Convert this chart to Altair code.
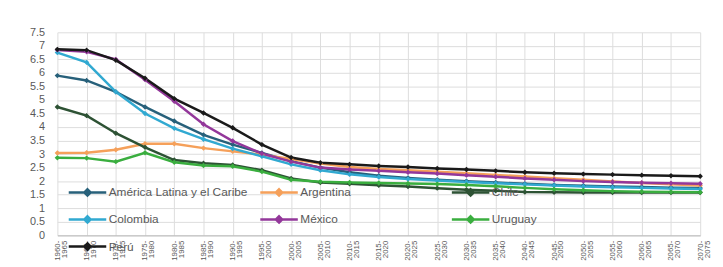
import altair as alt
import pandas as pd

periods = ["1960-1965", "1965-1970", "1970-1975", "1975-1980", "1980-1985", "1985-1990",
           "1990-1995", "1995-2000", "2000-2005", "2005-2010", "2010-2015", "2015-2020",
           "2020-2025", "2025-2030", "2030-2035", "2035-2040", "2040-2045", "2045-2050",
           "2050-2055", "2055-2060", "2060-2065", "2065-2070", "2070-2075"]

alc = [5.90, 5.72, 5.30, 4.74, 4.22, 3.71, 3.35, 3.04, 2.74, 2.50, 2.33, 2.20, 2.12, 2.05,
       2.00, 1.95, 1.90, 1.86, 1.83, 1.80, 1.78, 1.76, 1.75]
argentina = [3.04, 3.05, 3.16, 3.38, 3.38, 3.22, 3.10, 2.98, 2.82, 2.65, 2.52, 2.45, 2.40,
             2.35, 2.29, 2.23, 2.17, 2.11, 2.05, 1.99, 1.93, 1.88, 1.84]
chile = [4.74, 4.42, 3.77, 3.25, 2.78, 2.66, 2.60, 2.40, 2.10, 1.95, 1.90, 1.85, 1.80, 1.74,
         1.68, 1.64, 1.60, 1.59, 1.58, 1.58, 1.58, 1.58, 1.58]
colombia = [6.75, 6.39, 5.30, 4.50, 3.95, 3.55, 3.20, 2.92, 2.62, 2.40, 2.25, 2.15, 2.08,
            2.02, 1.97, 1.92, 1.88, 1.84, 1.80, 1.77, 1.75, 1.73, 1.71]
mexico = [6.85, 6.78, 6.50, 5.75, 4.95, 4.10, 3.48, 3.02, 2.72, 2.50, 2.43, 2.38, 2.33,
          2.28, 2.22, 2.16, 2.10, 2.05, 2.00, 1.97, 1.94, 1.92, 1.90]
uruguay = [2.86, 2.85, 2.72, 3.05, 2.70, 2.58, 2.55, 2.35, 2.05, 1.98, 1.95, 1.93, 1.91,
           1.89, 1.86, 1.81, 1.75, 1.70, 1.66, 1.63, 1.61, 1.60, 1.59]
peru = [6.87, 6.84, 6.47, 5.80, 5.05, 4.52, 3.97, 3.35, 2.87, 2.68, 2.62, 2.56, 2.52, 2.47,
        2.43, 2.38, 2.33, 2.29, 2.26, 2.24, 2.22, 2.20, 2.18]

series_names = ["América Latina y el Caribe", "Argentina", "Chile", "Colombia", "México",
                "Uruguay", "Perú"]
series_values = [alc, argentina, chile, colombia, mexico, uruguay, peru]
series_colors = ["#27607A", "#F5A05A", "#2D5234", "#31A9D1", "#93379A", "#3AAE3F", "#1A1A1A"]

y_ticks = [0, 0.5, 1, 1.5, 2, 2.5, 3, 3.5, 4, 4.5, 5, 5.5, 6, 6.5, 7, 7.5]

rows = []
for name, vals in zip(series_names, series_values):
    for p, v in zip(periods, vals):
        rows.append({"period": p, "series": name, "value": v})
df = pd.DataFrame(rows)

FONT = "Liberation Sans"

base = alt.Chart(df).encode(
    x=alt.X("period:N", sort=periods, scale=alt.Scale(padding=0),
            axis=alt.Axis(title=None, labelAngle=270, labelFontSize=8, labelColor="#595959",
                          labelExpr="[slice(datum.label,0,5), slice(datum.label,5)]",
                          labelLineHeight=7, labelPadding=5, labelOverlap=False,
                          grid=True, gridColor="#DCDCDC", tickSize=0,
                          domainColor="#BFBFBF", labelFont=FONT)),
    y=alt.Y("value:Q", scale=alt.Scale(domain=[0, 7.5], nice=False),
            axis=alt.Axis(title=None, values=y_ticks, format=".1~f", labelFontSize=11,
                          labelColor="#595959", labelPadding=13, tickSize=0, domain=False,
                          grid=True, gridColor="#DCDCDC", labelFont=FONT)),
    color=alt.Color("series:N", sort=series_names,
                    scale=alt.Scale(domain=series_names, range=series_colors),
                    legend=alt.Legend(orient="none", legendX=19, legendY=150.5, columns=3,
                                      direction="horizontal", title=None,
                                      symbolType="M-1.9,0H1.9M0,-0.32L0.32,0L0,0.32L-0.32,0Z",
                                      symbolSize=400, symbolStrokeWidth=2.5,
                                      labelFontSize=12, labelColor="#595959", labelFont=FONT,
                                      labelOffset=10, labelLimit=300, columnPadding=7,
                                      rowPadding=7.5, gridAlign="all")),
)

line = base.mark_line(strokeWidth=2.5)
pts = base.mark_point(filled=True, shape="diamond", size=30, opacity=1)

chart = alt.layer(line, pts).properties(
    width=651, height=205.5,
    padding={"left": 21, "top": 17, "right": 4, "bottom": 0},
).configure_view(stroke=None)

chart.save("out.html", embed_options={"renderer": "svg", "actions": False})
